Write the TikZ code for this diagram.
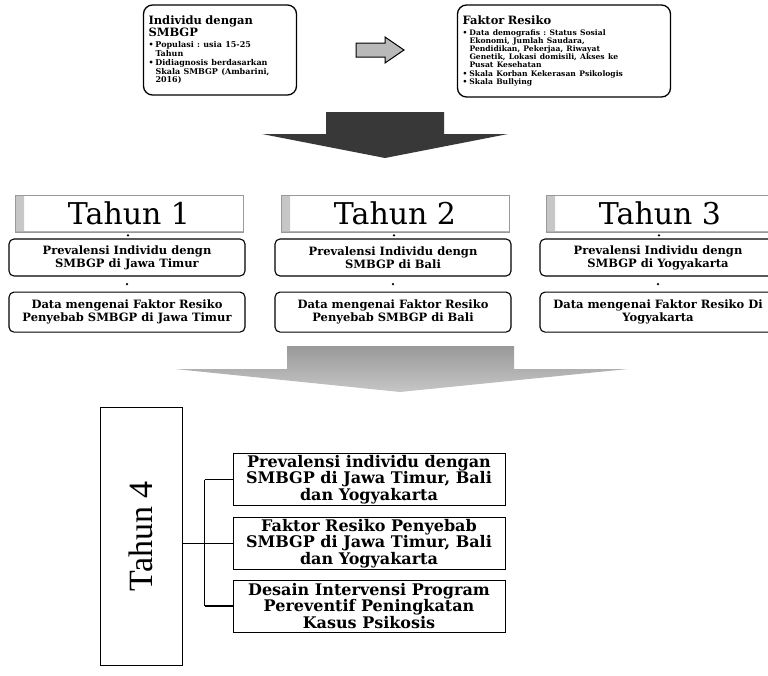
\documentclass[tikz,border=0pt]{standalone}
\usepackage{fontspec}
\setmainfont{DejaVu Serif}
\newfontfamily\tahunfont{Liberation Serif}
\usetikzlibrary{positioning,shadings}
\frenchspacing
\definecolor{arrowdark}{gray}{0.22}
\definecolor{bannerline}{gray}{0.6}
\newcommand{\butir}[1]{\hangindent=7pt\hangafter=1\noindent\makebox[7pt][l]{\textbullet}#1\par}
\begin{document}
\begin{tikzpicture}
	[x=1pt,y=-1pt,>=latex,
	topbox/.style={draw,line width=1.3pt,rounded corners=9pt,inner sep=5pt,align=left,font=\bfseries},
	banner/.style={draw=bannerline,minimum width=228pt,minimum height=37pt,inner sep=0pt,font=\fontsize{30}{32}\selectfont,
		path picture={\shade[left color=gray!45,right color=white] (path picture bounding box.south west) rectangle ([xshift=9pt]path picture bounding box.north west);
			\draw[gray!60,line width=1.5pt] (path picture bounding box.south west) -- (path picture bounding box.south east);}},
	yearbox/.style={draw,line width=1.1pt,rounded corners=5pt,minimum width=236pt,minimum height=37pt,inner sep=1pt,align=center,font=\fontsize{11.5}{13}\selectfont\bfseries},
	resultbox/.style={draw,line width=0.8pt,minimum width=272pt,minimum height=52pt,inner sep=1pt,align=center,font=\fontsize{16}{16.5}\selectfont\bfseries},
	dot/.style={circle,fill,inner sep=0.9pt}]
	\useasboundingbox (0,0) rectangle (768,675);
	\clip (0,0) rectangle (768,675);
	\node[topbox,text width=143pt,minimum height=90pt] (ind) at (220,50)
		{{\fontsize{11.5}{12.5}\selectfont Individu dengan\\SMBGP\par}\vspace{2pt}
		\fontsize{8}{8.8}\selectfont
		\butir{Populasi : usia 15-25\newline Tahun}
		\butir{Didiagnosis berdasarkan\newline Skala SMBGP (Ambarini,\newline 2016)}};
	\node[topbox,text width=203pt,minimum height=92pt] (fak) at (564,51)
		{{\fontsize{11.5}{12.5}\selectfont Faktor Resiko\par}\vspace{2pt}
		\fontsize{7.6}{8.2}\selectfont
		\butir{Data demografis : Status Sosial\newline Ekonomi, Jumlah Saudara,\newline Pendidikan, Pekerjaa, Riwayat\newline Genetik, Lokasi domisili, Akses ke\newline Pusat Kesehatan}
		\butir{Skala Korban Kekerasan Psikologis}
		\butir{Skala Bullying}};
	\draw[fill=gray!55,line width=1pt] (356,43) -- (385,43) -- (385,37) -- (404,50) -- (385,63) -- (385,57) -- (356,57) -- cycle;
	\fill[arrowdark] (326,112) -- (444,112) -- (444,134) -- (508,134) -- (385,158) -- (262,134) -- (326,134) -- cycle;
	\node[banner] (t1) at (129,213.5) {Tahun 1};
	\node[banner] (t2) at (395,213.5) {Tahun 2};
	\node[banner] (t3) at (660,213.5) {Tahun 3};
	\node[yearbox] (p1) at (127,257.5) {Prevalensi Individu dengn\\SMBGP di Jawa Timur};
	\node[yearbox] (p2) at (393,257.5) {Prevalensi Individu dengn\\SMBGP di Bali};
	\node[yearbox] (p3) at (658,257.5) {Prevalensi Individu dengn\\SMBGP di Yogyakarta};
	\node[yearbox,minimum height=40pt,below=15pt of p1] (d1) {Data mengenai Faktor Resiko\\Penyebab SMBGP di Jawa Timur};
	\node[yearbox,minimum height=40pt,below=15pt of p2] (d2) {Data mengenai Faktor Resiko\\Penyebab SMBGP di Bali};
	\node[yearbox,minimum height=40pt,below=15pt of p3] (d3) {Data mengenai Faktor Resiko Di\\Yogyakarta};
	\foreach \n in {1,2,3}{
		\path (t\n) -- node[dot]{} (p\n);
		\path (p\n) -- node[dot]{} (d\n);
	}
	\shade[top color=gray!80,bottom color=gray!45] (287,346) -- (514,346) -- (514,369) -- (628,369) -- (400,392) -- (175,369) -- (287,369) -- cycle;
	\node[draw,line width=0.8pt,minimum width=82pt,minimum height=258pt] (t4) at (141,536)
		{\rotatebox{90}{\tahunfont\fontsize{34}{36}\selectfont Tahun 4}};
	\node[resultbox] (ra) at (369,479.5) {Prevalensi individu dengan\\SMBGP di Jawa Timur, Bali\\dan Yogyakarta};
	\node[resultbox] (rb) at (369,543.5) {Faktor Resiko Penyebab\\SMBGP di Jawa Timur, Bali\\dan Yogyakarta};
	\node[resultbox] (rc) at (369,606) {Desain Intervensi Program\\Pereventif Peningkatan\\Kasus Psikosis};
	\draw[line width=1.2pt] (t4.east |- rb.west) -- (rb.west);
	\draw[line width=1.2pt] ([xshift=-28pt]ra.west) -- (ra.west);
	\draw[line width=1.2pt] ([xshift=-28pt]rc.west) -- (rc.west);
	\draw[line width=1.2pt] ([xshift=-28pt]ra.west) -- ([xshift=-28pt]rc.west);
\end{tikzpicture}
\end{document}
